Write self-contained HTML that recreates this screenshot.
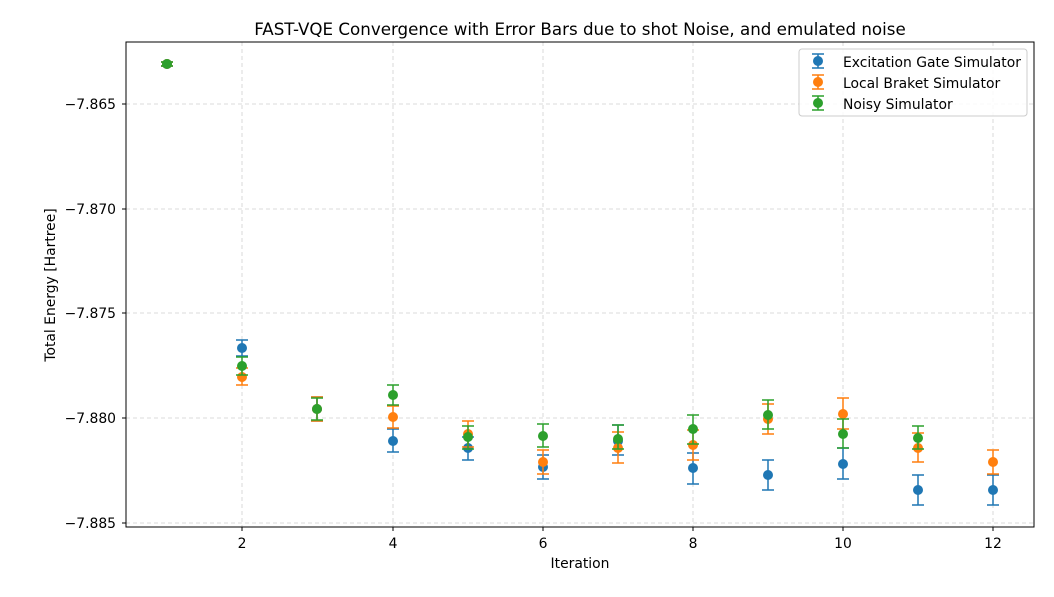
<!DOCTYPE html>
<html><head><meta charset="utf-8"><style>body{margin:0;background:#fff}svg{display:block}text{font-family:"DejaVu Sans","Liberation Sans",sans-serif}</style></head><body>
<svg width="1054" height="597" xmlns="http://www.w3.org/2000/svg">
<rect width="1054" height="597" fill="#fff"/>
<g stroke="#d0d0d0" stroke-dasharray="4,3" stroke-width="0.8">
<line x1="242" y1="42" x2="242" y2="527"/><line x1="393" y1="42" x2="393" y2="527"/><line x1="543" y1="42" x2="543" y2="527"/><line x1="693" y1="42" x2="693" y2="527"/><line x1="843" y1="42" x2="843" y2="527"/><line x1="993" y1="42" x2="993" y2="527"/>
<line x1="126" y1="104" x2="1034" y2="104"/><line x1="126" y1="209" x2="1034" y2="209"/><line x1="126" y1="313" x2="1034" y2="313"/><line x1="126" y1="418" x2="1034" y2="418"/><line x1="126" y1="523" x2="1034" y2="523"/>
</g>
<g stroke="#1f77b4" stroke-width="1.5" fill="none">
<path d="M167 62V66M161 62h12M161 66h12 M242 340V356M236 340h12M236 356h12 M317 397V421M311 397h12M311 421h12 M393 429V452M387 429h12M387 452h12 M468 437V460M462 437h12M462 460h12 M543 455V479M537 455h12M537 479h12 M618 425V455M612 425h12M612 455h12 M693 453V484M687 453h12M687 484h12 M768 460V490M762 460h12M762 490h12 M843 448V479M837 448h12M837 479h12 M918 475V505M912 475h12M912 505h12 M993 475V505M987 475h12M987 505h12"/>
</g>
<g fill="#1f77b4"><circle cx="167" cy="64" r="5"/><circle cx="242" cy="348" r="5"/><circle cx="317" cy="409" r="5"/><circle cx="393" cy="441" r="5"/><circle cx="468" cy="448" r="5"/><circle cx="543" cy="467" r="5"/><circle cx="618" cy="441" r="5"/><circle cx="693" cy="468" r="5"/><circle cx="768" cy="475" r="5"/><circle cx="843" cy="464" r="5"/><circle cx="918" cy="490" r="5"/><circle cx="993" cy="490" r="5"/></g>
<g stroke="#ff7f0e" stroke-width="1.5" fill="none">
<path d="M167 62V66M161 62h12M161 66h12 M242 368V385M236 368h12M236 385h12 M317 397V421M311 397h12M311 421h12 M393 406V428M387 406h12M387 428h12 M468 421V447M462 421h12M462 447h12 M543 450V474M537 450h12M537 474h12 M618 432V463M612 432h12M612 463h12 M693 430V460M687 430h12M687 460h12 M768 404V434M762 404h12M762 434h12 M843 398V429M837 398h12M837 429h12 M918 433V462M912 433h12M912 462h12 M993 450V474M987 450h12M987 474h12"/>
</g>
<g fill="#ff7f0e"><circle cx="167" cy="64" r="5"/><circle cx="242" cy="377" r="5"/><circle cx="317" cy="409" r="5"/><circle cx="393" cy="417" r="5"/><circle cx="468" cy="434" r="5"/><circle cx="543" cy="462" r="5"/><circle cx="618" cy="448" r="5"/><circle cx="693" cy="445" r="5"/><circle cx="768" cy="419" r="5"/><circle cx="843" cy="414" r="5"/><circle cx="918" cy="448" r="5"/><circle cx="993" cy="462" r="5"/></g>
<g stroke="#2ca02c" stroke-width="1.5" fill="none">
<path d="M167 62V66M161 62h12M161 66h12 M242 357V375M236 357h12M236 375h12 M317 398V420M311 398h12M311 420h12 M393 385V405M387 385h12M387 405h12 M468 426V449M462 426h12M462 449h12 M543 424V447M537 424h12M537 447h12 M618 425V449M612 425h12M612 449h12 M693 415V444M687 415h12M687 444h12 M768 400V429M762 400h12M762 429h12 M843 419V448M837 419h12M837 448h12 M918 426V449M912 426h12M912 449h12"/>
</g>
<g fill="#2ca02c"><circle cx="167" cy="64" r="5"/><circle cx="242" cy="366" r="5"/><circle cx="317" cy="409" r="5"/><circle cx="393" cy="395" r="5"/><circle cx="468" cy="437" r="5"/><circle cx="543" cy="436" r="5"/><circle cx="618" cy="439" r="5"/><circle cx="693" cy="429" r="5"/><circle cx="768" cy="415" r="5"/><circle cx="843" cy="434" r="5"/><circle cx="918" cy="438" r="5"/></g>
<rect x="126" y="42" width="908" height="485" fill="none" stroke="#000" stroke-width="1"/>
<g stroke="#000"><line x1="242" y1="527" x2="242" y2="531"/><line x1="393" y1="527" x2="393" y2="531"/><line x1="543" y1="527" x2="543" y2="531"/><line x1="693" y1="527" x2="693" y2="531"/><line x1="843" y1="527" x2="843" y2="531"/><line x1="993" y1="527" x2="993" y2="531"/>
<line x1="122" y1="104" x2="126" y2="104"/><line x1="122" y1="209" x2="126" y2="209"/><line x1="122" y1="313" x2="126" y2="313"/><line x1="122" y1="418" x2="126" y2="418"/><line x1="122" y1="523" x2="126" y2="523"/></g>
<g font-size="13.9" text-anchor="middle"><text x="242" y="548">2</text><text x="393" y="548">4</text><text x="543" y="548">6</text><text x="693" y="548">8</text><text x="843" y="548">10</text><text x="993" y="548">12</text>
<text x="580" y="568">Iteration</text>
<text x="580" y="35" font-size="16.7">FAST-VQE Convergence with Error Bars due to shot Noise, and emulated noise</text></g>
<g font-size="13.9" text-anchor="end"><text x="116" y="109">−7.865</text><text x="116" y="214">−7.870</text><text x="116" y="318">−7.875</text><text x="116" y="423">−7.880</text><text x="116" y="528">−7.885</text></g>
<text transform="translate(55,285) rotate(-90)" font-size="13.9" text-anchor="middle">Total Energy [Hartree]</text>
<rect x="799" y="49" width="228" height="67" rx="3" fill="#fff" fill-opacity="0.85" stroke="#ccc"/>
<g font-size="13.9"><text x="843" y="67">Excitation Gate Simulator</text><text x="843" y="88">Local Braket Simulator</text><text x="843" y="109">Noisy Simulator</text></g>
<g stroke-width="1.5" fill="none">
<path stroke="#1f77b4" d="M818 54V68M812 54h12M812 68h12"/>
<path stroke="#ff7f0e" d="M818 75V89M812 75h12M812 89h12"/>
<path stroke="#2ca02c" d="M818 96V110M812 96h12M812 110h12"/>
</g>
<circle cx="818" cy="61" r="5" fill="#1f77b4"/><circle cx="818" cy="82" r="5" fill="#ff7f0e"/><circle cx="818" cy="103" r="5" fill="#2ca02c"/>
</svg>
</body></html>
